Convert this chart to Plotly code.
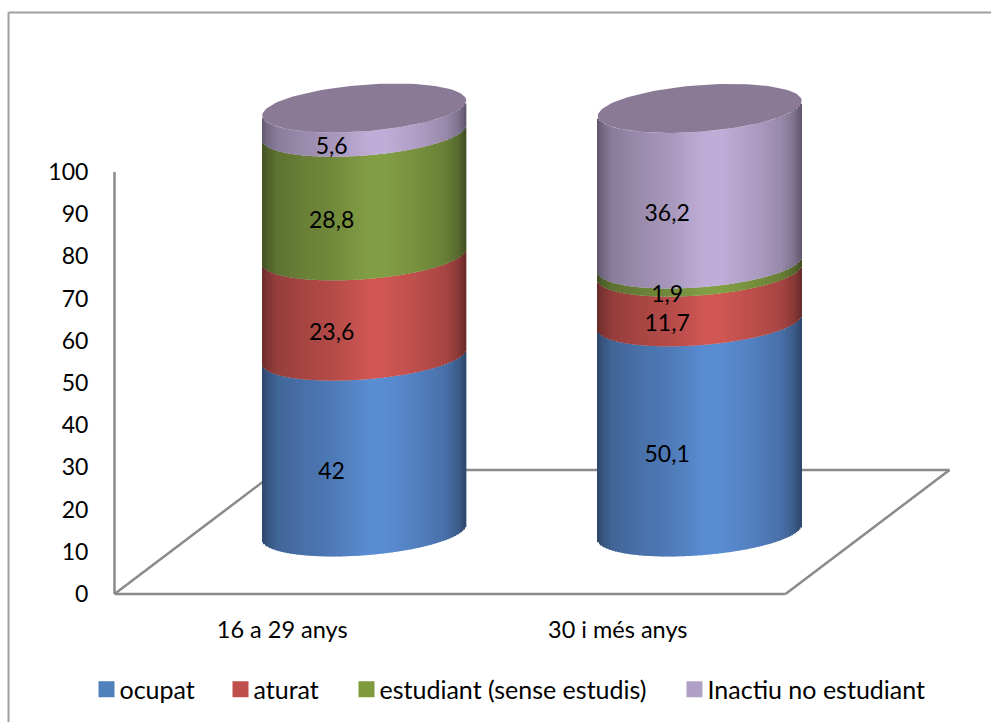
import numpy as np
import plotly.graph_objects as go

# ---------- data ----------
categories = ["16 a 29 anys", "30 i més anys"]
series_names = ["ocupat", "aturat", "estudiant (sense estudis)", "Inactiu no estudiant"]
ocupat = [42, 50.1]
aturat = [23.6, 11.7]
estudiant = [28.8, 1.9]
inactiu = [5.6, 36.2]
value_labels = [["42", "50,1"], ["23,6", "11,7"], ["28,8", "1,9"], ["5,6", "36,2"]]
y_ticks = list(range(0, 101, 10))

# ---------- style ----------
FONT = "Lato"
FS_TICK = 23
FS_CAT = 23.5
FS_LABEL = 23
FS_LEG = 25
swatch = ["#4F81BD", "#C0504D", "#7F9A3C", "#B0A0C8"]
peak = [(90, 140, 210), (207, 86, 83), (130, 158, 68), (191, 173, 215)]
top_col = "#8A7A96"
GREY = "#8A8A8A"

# ---------- projection of the 3-D frame onto the 2-D axes ----------
PX_X, PX_Y = 335.5, 4.22          # pixels per category / per value unit
L, B, W, H = 100, 600, 991, 722   # plot box
x0_axis, y0_axis = 114.5, 594
x_range = [0.5 - (x0_axis - L) / PX_X, 0.5 + (W - x0_axis) / PX_X]
y_range = [-(B - y0_axis) / PX_Y, y0_axis / PX_Y]
DEPTH_X = 164 / PX_X
DEPTH_Y = 124 / PX_Y
HALF_W = 102 / PX_X
TILT = 7.5 / PX_Y
MINOR = 23.3 / PX_Y


def persp(v):
    return v * 0.9834 + 0.000213 * v * v


def front(u):
    return TILT * u - MINOR * np.sqrt(np.clip(1 - u * u, 0, 1))


shade_u = [-1.0, -0.95, -0.85, -0.6, -0.3, 0.05, 0.22, 0.55, 0.8, 0.93, 1.0]
shade_v = [0.50, 0.60, 0.72, 0.80, 0.87, 1.0, 1.0, 0.90, 0.80, 0.66, 0.50]

values = [ocupat, aturat, estudiant, inactiu]
positions = [1, 2]
fig = go.Figure()

N = 136
us = (np.arange(N) + 0.5) / N * 2 - 1
for s, name in enumerate(series_names):
    xs, bases, heights, cols = [], [], [], []
    for i, c in enumerate(positions):
        low = sum(values[k][i] for k in range(s))
        high = low + values[s][i]
        cx = c + DEPTH_X / 2
        for u in us:
            xs.append(cx + u * HALF_W)
            b = persp(low) + DEPTH_Y / 2 + front(u)
            bases.append(b)
            heights.append(persp(high) - persp(low))
            f = np.interp(u, shade_u, shade_v)
            cols.append("rgb(%d,%d,%d)" % tuple(int(round(p * f)) for p in peak[s]))
    fig.add_trace(go.Bar(x=xs, y=heights, base=bases, width=2.0 * HALF_W / N * 1.15,
                         marker=dict(color=cols, line=dict(width=0)),
                         showlegend=False, hoverinfo="skip"))

# top caps
t = np.linspace(0, 2 * np.pi, 121)
for i, c in enumerate(positions):
    total = sum(values[k][i] for k in range(4))
    cx = c + DEPTH_X / 2
    ct = persp(total) + DEPTH_Y / 2
    fig.add_trace(go.Scatter(x=cx + HALF_W * np.cos(t),
                             y=ct + TILT * np.cos(t) + MINOR * np.sin(t),
                             mode="lines", fill="toself", fillcolor=top_col,
                             line=dict(width=0), showlegend=False, hoverinfo="skip"))

# value labels
LU = -0.32
LABEL_DROP = 4 / PX_Y
lx, ly, lt = [], [], []
for s in range(4):
    for i, c in enumerate(positions):
        low = sum(values[k][i] for k in range(s))
        mid = low + values[s][i] / 2
        lx.append(c + DEPTH_X / 2 + LU * HALF_W)
        ly.append(persp(mid) + DEPTH_Y / 2 + front(LU) - LABEL_DROP)
        lt.append(value_labels[s][i])
fig.add_trace(go.Scatter(x=lx, y=ly, text=lt, mode="text", textposition="middle center",
                         textfont=dict(family=FONT, size=FS_LABEL, color="#000000"),
                         showlegend=False, hoverinfo="skip"))

# legend entries, one legend each so that they can sit at their own positions
leg_x = [99, 233, 359, 687]
leg_layout = {}
for s, name in enumerate(series_names):
    key = "legend" if s == 0 else f"legend{s + 1}"
    fig.add_trace(go.Scatter(x=[None], y=[None], mode="markers", name=name, legend=key,
                             marker=dict(symbol="square", size=16, color=swatch[s], line=dict(width=0))))
    leg_layout[key] = dict(x=(leg_x[s] - 6.5 - L) / (W - L), y=(B - 689.5) / (B), xanchor="left", yanchor="middle",
                           bgcolor="rgba(0,0,0,0)", borderwidth=0, indentation=-13,
                           font=dict(family=FONT, size=FS_LEG, color="#000000"))

# floor, value axis and chart frame
xf = [0.5, 2.5, 2.5 + DEPTH_X, 0.5 + DEPTH_X, 0.5]
yf = [0, 0, DEPTH_Y, DEPTH_Y, 0]
shapes = []
for a in range(4):
    shapes.append(dict(type="line", xref="x", yref="y", x0=xf[a], y0=yf[a], x1=xf[a + 1], y1=yf[a + 1],
                       layer="below", line=dict(color=GREY, width=2.5)))
shapes.append(dict(type="line", xref="x", yref="y", x0=0.5, y0=0, x1=0.5, y1=100,
                   layer="below", line=dict(color=GREY, width=2.5)))
pw, ph = W - L, B
def fx(px): return (px - L) / pw
def fy(py): return (B - py) / ph
shapes.append(dict(type="line", xref="paper", yref="paper", x0=fx(8.5), x1=fx(8.5), y0=fy(12.5), y1=fy(722),
                   layer="below", line=dict(color="#A0A0A0", width=2)))
shapes.append(dict(type="line", xref="paper", yref="paper", x0=fx(8.5), x1=fx(991), y0=fy(12.5), y1=fy(12.5),
                   layer="below", line=dict(color="#A0A0A0", width=2)))

fig.update_layout(
    width=W, height=H, margin=dict(l=L, r=0, t=0, b=H - B, autoexpand=False),
    plot_bgcolor="white", paper_bgcolor="white", barmode="overlay",
    font=dict(family=FONT, size=FS_TICK, color="#000000"), shapes=shapes,
    xaxis=dict(range=x_range, tickmode="array", tickvals=positions, ticktext=categories,
               showgrid=False, zeroline=False, showline=False, ticks="outside", ticklen=9,
               tickcolor="rgba(0,0,0,0)", tickfont=dict(family=FONT, size=FS_CAT)),
    yaxis=dict(range=y_range, tickmode="array", tickvals=y_ticks,
               showgrid=False, zeroline=False, showline=False, ticks="outside", ticklen=6,
               tickcolor="rgba(0,0,0,0)", tickfont=dict(family=FONT, size=FS_TICK)),
    **leg_layout,
)
fig.write_html("out.html", config=dict(displayModeBar=False),
               post_script=("document.body.style.margin='0';document.body.style.overflow='hidden';"
                            "document.querySelectorAll('.legendpoints').forEach("
                            "function(g){g.setAttribute('transform','translate(7,0)');});"))
